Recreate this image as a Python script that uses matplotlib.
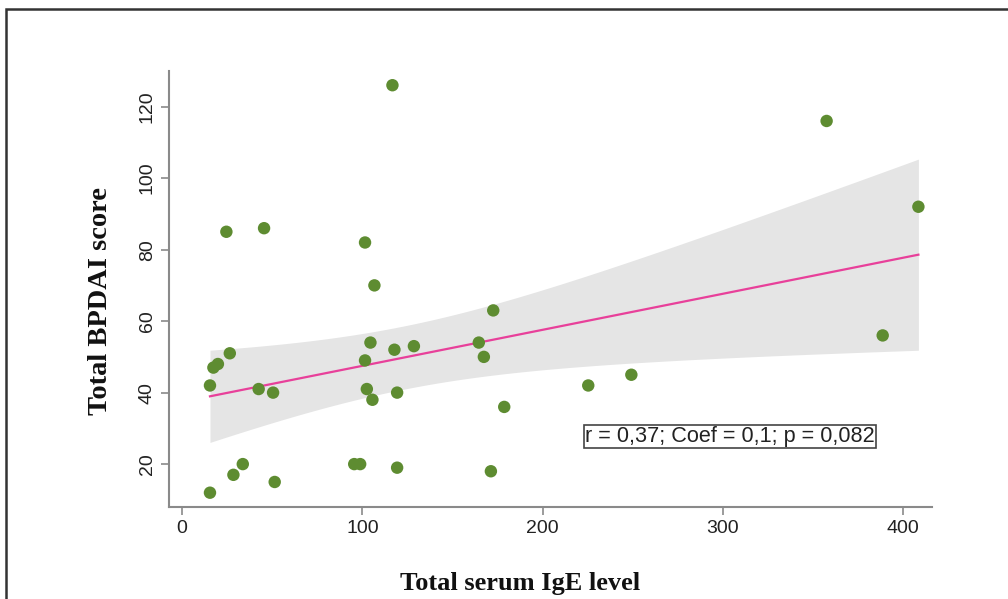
import numpy as np
import matplotlib
matplotlib.use("Agg")
import matplotlib.pyplot as plt
from matplotlib.patches import Rectangle

# values
ige_level = [15.5, 15.5, 17.4, 19.9, 24.6, 26.5, 28.5, 33.7, 42.5, 45.5, 50.5, 51.4,
             95.5, 98.8, 101.5, 101.5, 102.5, 104.5, 105.6, 106.7, 116.7, 117.8,
             119.3, 119.3, 128.6, 164.6, 167.4, 171.3, 172.6, 178.7, 225.3, 249.2,
             357.5, 388.6, 408.4]
bpdai_score = [12, 42, 47, 48, 85, 51, 17, 20, 41, 86, 40, 15,
               20, 20, 82, 49, 41, 54, 38, 70, 126, 52,
               40, 19, 53, 54, 50, 18, 63, 36, 42, 45,
               116, 56, 92]
x_ticks = [0, 100, 200, 300, 400]
y_ticks = [20, 40, 60, 80, 100, 120]
stats_label = "r = 0,37; Coef = 0,1; p = 0,082"

x = np.array(ige_level)
y = np.array(bpdai_score)

# OLS fit with 95% confidence band
n = len(x)
slope, intercept = np.polyfit(x, y, 1)
xs = np.linspace(x.min(), x.max(), 200)
fit = intercept + slope * xs
resid = y - (intercept + slope * x)
s = np.sqrt(np.sum(resid ** 2) / (n - 2))
sxx = np.sum((x - x.mean()) ** 2)
se = s * np.sqrt(1 / n + (xs - x.mean()) ** 2 / sxx)
t = 2.0345  # t(0.975, 33)
lo, hi = fit - t * se, fit + t * se

fig = plt.figure(figsize=(10.08, 5.99), dpi=100)
ax = fig.add_axes([0.1677, 0.1536, 0.757, 0.728])

ax.fill_between(xs, lo, hi, color="#e5e5e5", lw=0, zorder=1)
ax.plot(xs, fit, color="#e8409a", lw=1.6, zorder=2)
ax.scatter(x, y, s=80, color="#5e8c31", edgecolors="none", zorder=3)

ax.text(304.1, 27.7, stats_label, ha="center", va="center", fontsize=15.6,
        family="Liberation Sans", color="#222222",
        bbox=dict(boxstyle="square,pad=0.05", fc="white", ec="#444444", lw=1.2))

ax.set_xlim(-7.2, 416)
ax.set_ylim(8, 130)
ax.set_xticks(x_ticks)
ax.set_yticks(y_ticks)
for sp in ["top", "right"]:
    ax.spines[sp].set_visible(False)
for sp in ["left", "bottom"]:
    ax.spines[sp].set_color("#8a8a8a")
    ax.spines[sp].set_linewidth(1.5)
ax.tick_params(colors="#8a8a8a", length=6, width=1.2, labelcolor="#222222",
               labelsize=14)
for lab in ax.get_xticklabels() + ax.get_yticklabels():
    lab.set_family("Liberation Sans")
for lab in ax.get_yticklabels():
    lab.set_rotation(90)
    lab.set_va("center")

ax.set_xlabel("Total serum IgE level", fontsize=19, fontweight="bold",
              family="Liberation Serif", color="#111111")
ax.set_ylabel("Total BPDAI score", fontsize=20.5, fontweight="bold",
              family="Liberation Serif", color="#111111")
ax.xaxis.set_label_coords((520 - 169) / 763, -(572 - 507) / 436)
ax.yaxis.set_label_coords(-(169 - 113) / 763, (507 - 301) / 436)

# outer frame of the figure panel
fig.patches.append(Rectangle((6 / 1008, -0.1), 1.2, 1 - 9 / 599 + 0.1,
                             transform=fig.transFigure, fill=False,
                             ec="#333333", lw=1.8))

fig.savefig("out.png", dpi=100)
